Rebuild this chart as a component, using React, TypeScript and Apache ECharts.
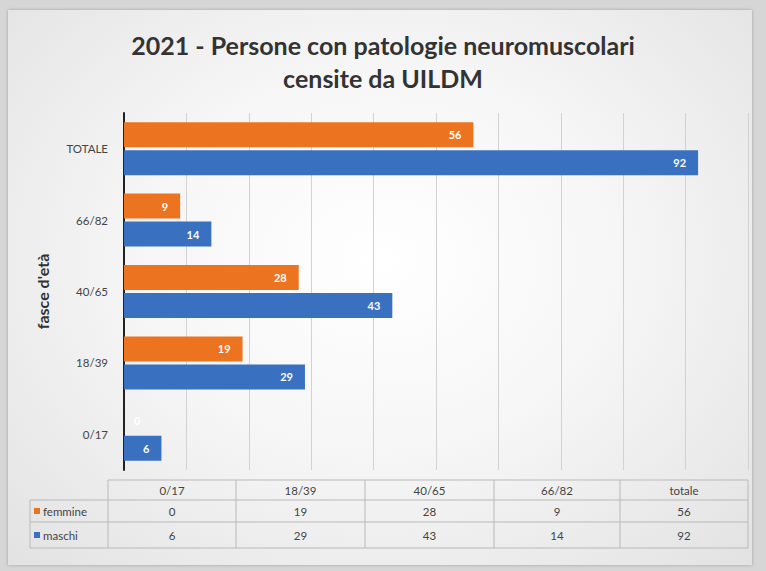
import React, { useEffect, useRef } from "react";
import * as echarts from "echarts";

const categories = ["0/17", "18/39", "40/65", "66/82", "TOTALE"];
const tableHeaders = ["0/17", "18/39", "40/65", "66/82", "totale"];
const femmine = [0, 19, 28, 9, 56];
const maschi = [6, 29, 43, 14, 92];
const seriesNames = ["femmine", "maschi"];
const colors = ["#EC7420", "#3A70C0"];
const titleLines = ["2021 - Persone con patologie neuromuscolari", "censite da UILDM"];

const W = 766;
const H = 571;
const GRID_L = 124;
const GRID_R = 748;
const GRID_T = 113;
const GRID_B = 470;

export default function App() {
  const ref = useRef<HTMLDivElement>(null);
  useEffect(() => {
    if (!ref.current) return;
    const chart = echarts.init(ref.current, null, { renderer: "svg" });
    const font = "Lato, 'Liberation Sans', sans-serif";

    const colX = [108, 236, 365, 494, 620, 748];
    const rowY = [480, 500, 522, 548];
    const lineStyle = { stroke: "#b9b9b9", lineWidth: 1 };
    const g: any[] = [];
    // title
    titleLines.forEach((t, i) => {
      g.push({
        type: "text",
        x: W / 2,
        y: 45 + i * 33,
        style: { text: t, fill: "#333", font: `bold 25px ${font}`, align: "center", verticalAlign: "middle" },
      });
    });
    // data table
    g.push({ type: "line", shape: { x1: colX[0], y1: rowY[0], x2: colX[5], y2: rowY[0] }, style: lineStyle });
    for (let r = 1; r < rowY.length; r++) {
      g.push({ type: "line", shape: { x1: 30, y1: rowY[r], x2: colX[5], y2: rowY[r] }, style: lineStyle });
    }
    g.push({ type: "line", shape: { x1: 30, y1: rowY[1], x2: 30, y2: rowY[3] }, style: lineStyle });
    colX.forEach((x) => {
      g.push({ type: "line", shape: { x1: x, y1: rowY[0], x2: x, y2: rowY[3] }, style: lineStyle });
    });
    const rows = [femmine, maschi];
    tableHeaders.forEach((h, i) => {
      const cx = (colX[i] + colX[i + 1]) / 2;
      g.push({ type: "text", x: cx, y: (rowY[0] + rowY[1]) / 2, style: { text: h, fill: "#444", font: `11.5px ${font}`, align: "center", verticalAlign: "middle" } });
      rows.forEach((vals, r) => {
        g.push({ type: "text", x: cx, y: (rowY[r + 1] + rowY[r + 2]) / 2, style: { text: String(vals[i]), fill: "#444", font: `11.5px ${font}`, align: "center", verticalAlign: "middle" } });
      });
    });
    seriesNames.forEach((n, r) => {
      const cy = (rowY[r + 1] + rowY[r + 2]) / 2;
      g.push({ type: "rect", shape: { x: 34, y: cy - 3, width: 6, height: 6 }, style: { fill: colors[r] } });
      g.push({ type: "text", x: 43, y: cy, style: { text: n, fill: "#444", font: `11.5px ${font}`, align: "left", verticalAlign: "middle" } });
    });
    // y axis title
    g.push({
      type: "text",
      x: 42,
      y: (GRID_T + GRID_B) / 2,
      rotation: Math.PI / 2,
      style: { text: "fasce d'età", fill: "#333", font: `bold 16px ${font}`, align: "center", verticalAlign: "middle" },
    });

    const labelBase = { show: true, position: "insideRight", color: "#fff", fontWeight: "bold", fontSize: 11, fontFamily: font, distance: 12 };
    const toItems = (vals: number[]) =>
      vals.map((v) => (v === 0 ? { value: v, label: { position: "right", distance: 10 } } : v));

    chart.setOption({
      animation: false,
      grid: { left: GRID_L, right: W - GRID_R, top: GRID_T, bottom: H - GRID_B },
      xAxis: {
        type: "value",
        min: 0,
        max: 100,
        interval: 10,
        axisLabel: { show: false },
        axisLine: { show: false },
        axisTick: { show: false },
        splitLine: { lineStyle: { color: "#d2d2d2", width: 1 } },
      },
      yAxis: {
        type: "category",
        data: categories,
        axisLine: { lineStyle: { color: "#222", width: 2 } },
        axisTick: { show: false },
        axisLabel: { color: "#444", fontSize: 11.5, fontFamily: font, margin: 16 },
      },
      series: [
        {
          name: "femmine",
          type: "bar",
          data: toItems(femmine),
          barWidth: 25,
          barGap: "12%",
          itemStyle: { color: colors[0] },
          label: labelBase,
        },
        {
          name: "maschi",
          type: "bar",
          data: toItems(maschi),
          barWidth: 25,
          barGap: "12%",
          itemStyle: { color: colors[1] },
          label: labelBase,
        },
      ],
      graphic: g,
    });
    return () => chart.dispose();
  }, []);

  return (
    <div style={{ position: "fixed", left: 0, top: 0, width: W, height: H, background: "#d6d6d6", overflow: "hidden" }}>
      <div
        style={{
          position: "absolute",
          left: 8,
          top: 10,
          width: 744,
          height: 555,
          background: "radial-gradient(ellipse at 50% 45%, #ffffff 0%, #f6f6f6 45%, #e2e2e2 100%)",
          boxShadow: "0 0 3px rgba(0,0,0,0.25)",
        }}
      />
      <div ref={ref} style={{ position: "absolute", left: 0, top: 0, width: W, height: H }} />
    </div>
  );
}
